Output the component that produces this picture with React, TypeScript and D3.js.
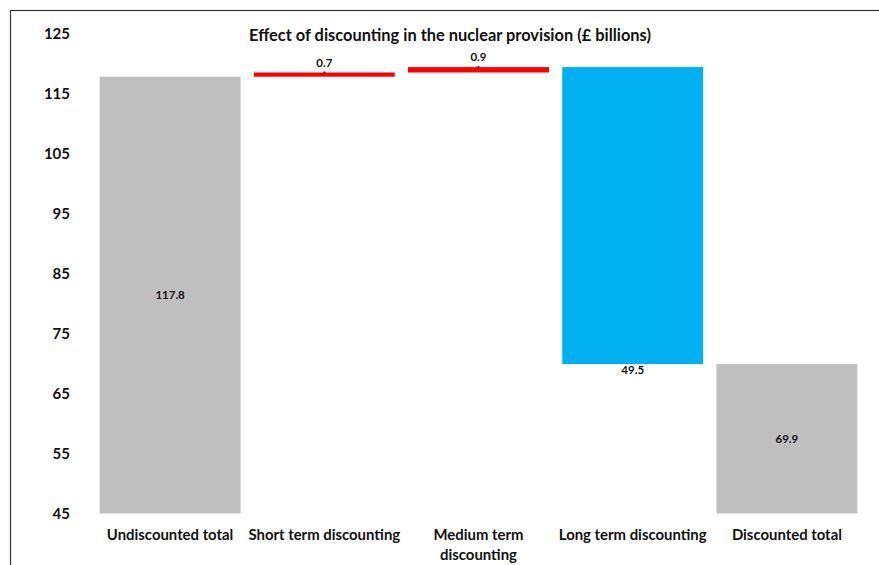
import React from "react";
import * as d3 from "d3";

// Waterfall steps for the nuclear provision (£ billions)
const categories = [
  "Undiscounted total",
  "Short term discounting",
  "Medium term discounting",
  "Long term discounting",
  "Discounted total",
];
const categoryLines = [
  ["Undiscounted total"],
  ["Short term discounting"],
  ["Medium term", "discounting"],
  ["Long term discounting"],
  ["Discounted total"],
];
const changes = [117.8, 0.7, 0.9, -49.5, 69.9];
const kinds = ["total", "step", "step", "step", "total"];
const yTicks = [45, 55, 65, 75, 85, 95, 105, 115, 125];

const W = 879;
const H = 565;
const FONT = "Lato, 'Open Sans', sans-serif";

const colorFor = (kind: string, v: number) =>
  kind === "total" ? "#BFBFBF" : v >= 0 ? "#FF0000" : "#00B0F0";

export default function App() {
  const x = d3
    .scaleBand<string>()
    .domain(categories)
    .range([93, 864])
    .paddingInner(0.086)
    .paddingOuter(0.043);
  const y = d3.scaleLinear().domain([45, 125]).range([513.5, 33.5]);

  // running totals for the floating steps
  let running = 0;
  const bars = categories.map((c, i) => {
    const v = changes[i];
    let lo: number, hi: number;
    if (kinds[i] === "total") {
      lo = 45;
      hi = v;
      running = v;
    } else {
      const start = running;
      const end = running + v;
      lo = Math.min(start, end);
      hi = Math.max(start, end);
      running = end;
    }
    return { c, v, lo, hi, kind: kinds[i] };
  });

  return (
    <svg
      width={W}
      height={H}
      style={{ position: "absolute", left: 0, top: 0, background: "#fff" }}
    >
      <rect x={0} y={0} width={W} height={H} fill="#fff" />
      <rect
        x={10.5}
        y={10.5}
        width={W + 20}
        height={H + 20}
        fill="none"
        stroke="#333"
        strokeWidth={1.2}
      />

      <text
        x={450}
        y={40.5}
        textAnchor="middle"
        fontFamily={FONT}
        fontWeight={700}
        fontSize={16.4}
        fill="#111"
      >
        Effect of discounting in the nuclear provision (£ billions)
      </text>

      {yTicks.map((t) => (
        <text
          key={t}
          x={70}
          y={y(t)}
          dy="0.36em"
          textAnchor="end"
          fontFamily={FONT}
          fontWeight={700}
          fontSize={15}
          fill="#111"
        >
          {t}
        </text>
      ))}

      {bars.map((b) => {
        const x0 = x(b.c)!;
        const bw = x.bandwidth();
        const top = y(b.hi);
        const bottom = y(b.lo);
        const cx = x0 + bw / 2;
        let label: React.ReactNode;
        const txt = Math.abs(b.v).toFixed(1);
        const common = {
          textAnchor: "middle" as const,
          fontFamily: FONT,
          fontWeight: 700,
          fontSize: 11.5,
          fill: "#111",
        };
        if (b.kind === "total") {
          label = (
            <text x={cx} y={(top + bottom) / 2} dy="0.36em" {...common}>
              {txt}
            </text>
          );
        } else if (b.v >= 0) {
          label = (
            <g>
              <text x={cx} y={top - 6} {...common}>
                {txt}
              </text>
              <rect x={cx - 1} y={top - 1} width={2} height={2} fill="#333" />
            </g>
          );
        } else {
          label = (
            <text x={cx} y={bottom + 10} {...common}>
              {txt}
            </text>
          );
        }
        return (
          <g key={b.c}>
            <rect
              x={x0}
              y={top}
              width={bw}
              height={Math.max(bottom - top, 1)}
              fill={colorFor(b.kind, b.v)}
            />
            {label}
          </g>
        );
      })}

      {categories.map((c, i) => (
        <text
          key={c}
          x={x(c)! + x.bandwidth() / 2}
          y={540}
          textAnchor="middle"
          fontFamily={FONT}
          fontWeight={700}
          fontSize={14.9}
          fill="#111"
        >
          {categoryLines[i].map((ln, j) => (
            <tspan key={j} x={x(c)! + x.bandwidth() / 2} dy={j === 0 ? 0 : 20}>
              {ln}
            </tspan>
          ))}
        </text>
      ))}
    </svg>
  );
}
